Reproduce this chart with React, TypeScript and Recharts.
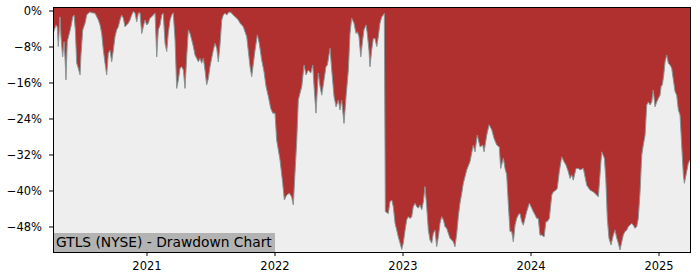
import React from 'react';
import { AreaChart, Area, XAxis, YAxis } from 'recharts';

// Drawdown (%) by decimal year
const dd2020: [number, number][] = [
  [2020.268,-4.9],[2020.289,-3.1],[2020.299,-3.6],[2020.307,-7.9],[2020.320,-1.3],[2020.328,-5.7],[2020.341,-10.2],[2020.352,-6.8],[2020.359,-10.2],[2020.367,-15.3],[2020.377,-6.8],[2020.393,-5.0],[2020.406,-3.5],[2020.420,-1.3],[2020.430,-0.9],[2020.440,-4.2],[2020.451,-11.6],[2020.463,-12.7],[2020.477,-14.2],[2020.484,-9.8],[2020.498,-4.2],[2020.516,-2.7],[2020.529,-0.9],[2020.541,-0.5],[2020.555,-0.2],[2020.568,-0.4],[2020.594,-0.5],[2020.620,-2.0],[2020.633,-3.1],[2020.646,-5.0],[2020.659,-8.7],[2020.672,-11.6],[2020.685,-14.2],[2020.698,-9.4],[2020.711,-8.7],[2020.724,-11.3],[2020.737,-8.7],[2020.750,-5.7],[2020.763,-4.2],[2020.776,-3.5],[2020.789,-2.0],[2020.802,-0.9],[2020.815,-1.6],[2020.828,-3.5],[2020.841,-3.1],[2020.854,-2.7],[2020.867,-2.0],[2020.880,-0.9],[2020.893,-0.1],[2020.906,-0.5],[2020.920,-2.4],[2020.932,-0.5],[2020.945,-0.4],[2020.959,-5.0],[2020.971,-3.5],[2020.984,-2.0],[2020.998,-3.1],
];
const dd2021: [number, number][] = [
  [2021.010,-2.7],[2021.023,-1.6],[2021.037,-1.3],[2021.049,-0.9],[2021.063,-0.5],[2021.076,-10.2],[2021.088,-4.2],[2021.102,-3.1],[2021.115,-0.9],[2021.127,-0.5],[2021.141,-7.2],[2021.154,-9.0],[2021.166,-5.0],[2021.180,-2.0],[2021.193,-0.9],[2021.205,-0.4],[2021.219,-6.4],[2021.232,-17.2],[2021.245,-15.3],[2021.258,-12.7],[2021.271,-12.4],[2021.284,-13.1],[2021.297,-17.2],[2021.310,-10.2],[2021.323,-4.2],[2021.336,-5.0],[2021.349,-6.4],[2021.362,-7.9],[2021.375,-9.8],[2021.388,-10.5],[2021.401,-11.3],[2021.414,-10.5],[2021.427,-11.6],[2021.440,-10.5],[2021.453,-13.1],[2021.466,-16.4],[2021.479,-15.0],[2021.492,-12.4],[2021.505,-10.5],[2021.518,-8.7],[2021.531,-7.2],[2021.545,-8.3],[2021.557,-11.3],[2021.570,-7.6],[2021.584,-2.0],[2021.596,-0.9],[2021.609,-0.5],[2021.623,-0.9],[2021.635,-0.4],[2021.648,-0.2],[2021.662,-0.5],[2021.674,-0.9],[2021.688,-1.3],[2021.701,-1.6],[2021.713,-2.0],[2021.727,-2.7],[2021.752,-3.5],[2021.779,-5.7],[2021.805,-12.4],[2021.818,-14.6],[2021.844,-8.7],[2021.862,-5.3],[2021.877,-7.2],[2021.896,-10.9],[2021.914,-13.5],[2021.930,-16.8],[2021.948,-19.0],[2021.966,-21.6],[2021.982,-22.7],
];
const dd2022: [number, number][] = [
  [2022.000,-22.7],[2022.013,-28.7],[2022.039,-33.1],[2022.060,-38.3],[2022.073,-42.0],[2022.091,-40.9],[2022.112,-40.5],[2022.130,-41.3],[2022.143,-43.1],[2022.156,-36.0],[2022.170,-28.7],[2022.182,-19.8],[2022.195,-18.3],[2022.209,-16.8],[2022.227,-12.0],[2022.242,-14.2],[2022.260,-13.1],[2022.279,-13.8],[2022.295,-12.0],[2022.305,-16.8],[2022.320,-22.7],[2022.338,-13.8],[2022.352,-16.8],[2022.365,-18.7],[2022.383,-15.3],[2022.398,-12.4],[2022.409,-12.0],[2022.430,-8.3],[2022.443,-13.1],[2022.461,-19.0],[2022.477,-21.3],[2022.495,-19.8],[2022.508,-22.0],[2022.521,-19.8],[2022.539,-25.0],[2022.555,-19.0],[2022.573,-13.1],[2022.586,-5.0],[2022.599,-1.6],[2022.617,-2.7],[2022.633,-5.0],[2022.643,-4.6],[2022.656,-5.7],[2022.670,-10.2],[2022.685,-6.4],[2022.695,-4.2],[2022.711,-3.1],[2022.721,-5.0],[2022.734,-8.7],[2022.742,-12.4],[2022.755,-8.7],[2022.768,-6.1],[2022.781,-6.1],[2022.795,-7.9],[2022.807,-5.7],[2022.820,-2.7],[2022.834,-1.3],[2022.846,-0.9],[2022.854,-0.5],[2022.862,-44.6],[2022.885,-45.0],[2022.898,-42.4],[2022.912,-42.0],[2022.924,-43.5],[2022.938,-47.2],[2022.951,-48.7],[2022.963,-50.2],[2022.977,-51.6],[2022.990,-53.0],
];
const dd2023: [number, number][] = [
  [2023.002,-51.6],[2023.016,-48.7],[2023.029,-46.4],[2023.041,-45.7],[2023.055,-46.1],[2023.068,-45.7],[2023.080,-43.5],[2023.094,-42.7],[2023.107,-43.5],[2023.120,-43.8],[2023.133,-43.1],[2023.146,-44.2],[2023.159,-42.4],[2023.172,-39.0],[2023.185,-43.5],[2023.198,-48.7],[2023.211,-50.9],[2023.224,-51.6],[2023.237,-49.4],[2023.250,-48.7],[2023.263,-52.4],[2023.276,-50.2],[2023.289,-47.2],[2023.302,-45.7],[2023.315,-46.4],[2023.328,-47.9],[2023.341,-48.3],[2023.354,-49.4],[2023.367,-50.5],[2023.380,-50.9],[2023.393,-51.3],[2023.406,-52.4],[2023.420,-49.4],[2023.432,-45.7],[2023.445,-42.7],[2023.459,-40.5],[2023.471,-38.3],[2023.498,-35.3],[2023.523,-33.5],[2023.549,-29.8],[2023.5625,-31.3],[2023.580,-27.6],[2023.602,-30.2],[2023.623,-29.8],[2023.633,-31.3],[2023.654,-27.6],[2023.672,-25.3],[2023.693,-26.4],[2023.711,-28.3],[2023.732,-29.8],[2023.752,-30.2],[2023.763,-35.0],[2023.784,-32.7],[2023.797,-35.0],[2023.810,-36.4],[2023.823,-43.1],[2023.836,-49.0],[2023.849,-49.0],[2023.862,-51.3],[2023.875,-47.6],[2023.888,-46.1],[2023.901,-45.3],[2023.914,-45.0],[2023.927,-46.8],[2023.940,-47.6],[2023.953,-46.1],[2023.966,-44.6],[2023.987,-42.7],
];
const dd2024: [number, number][] = [
  [2024.005,-43.8],[2024.018,-44.6],[2024.031,-45.3],[2024.045,-46.1],[2024.057,-46.1],[2024.070,-49.8],[2024.084,-49.8],[2024.102,-50.2],[2024.117,-46.8],[2024.127,-46.8],[2024.143,-46.1],[2024.162,-40.9],[2024.174,-40.2],[2024.195,-39.8],[2024.205,-39.4],[2024.221,-35.7],[2024.240,-32.4],[2024.258,-33.5],[2024.273,-34.2],[2024.291,-35.7],[2024.305,-37.2],[2024.318,-36.4],[2024.330,-37.6],[2024.352,-35.0],[2024.370,-35.0],[2024.383,-35.3],[2024.409,-35.0],[2024.435,-38.7],[2024.461,-39.8],[2024.487,-40.2],[2024.513,-40.9],[2024.526,-41.3],[2024.539,-36.4],[2024.552,-31.3],[2024.573,-32.7],[2024.584,-37.2],[2024.596,-46.1],[2024.609,-50.5],[2024.625,-52.0],[2024.643,-49.8],[2024.656,-48.7],[2024.670,-50.5],[2024.682,-51.6],[2024.695,-53.1],[2024.709,-51.3],[2024.721,-49.8],[2024.734,-49.0],[2024.748,-48.7],[2024.760,-47.9],[2024.773,-47.6],[2024.787,-47.2],[2024.799,-47.6],[2024.8125,-48.3],[2024.826,-47.9],[2024.838,-46.1],[2024.852,-40.2],[2024.865,-32.0],[2024.877,-29.8],[2024.891,-27.6],[2024.904,-20.9],[2024.916,-20.2],[2024.930,-20.9],[2024.943,-20.2],[2024.955,-17.6],[2024.969,-21.3],[2024.982,-20.2],[2024.995,-19.4],
];
const dd2025: [number, number][] = [
  [2025.008,-18.7],[2025.016,-16.8],[2025.026,-16.4],[2025.037,-14.2],[2025.047,-11.3],[2025.060,-9.8],[2025.073,-11.6],[2025.086,-12.0],[2025.099,-12.7],[2025.112,-15.3],[2025.125,-17.9],[2025.138,-18.7],[2025.151,-22.0],[2025.164,-23.1],[2025.177,-29.8],[2025.190,-36.4],[2025.198,-38.3],[2025.216,-35.7],[2025.229,-33.8],[2025.242,-33.1],
];

const xTicks = [2021, 2022, 2023, 2024, 2025];
const yTicks = [0, -8, -16, -24, -32, -40, -48];
const X_MIN = 2020.2656;
const X_MAX = 2025.242;
const Y_MIN = -53.56;
const Y_MAX = 0.89;
const TITLE = 'GTLS (NYSE) - Drawdown Chart';
const MINUS = '−';

const data = [...dd2020, ...dd2021, ...dd2022, ...dd2023, ...dd2024, ...dd2025].map(([t, v]) => ({ t, v }));

const FONT = "'DejaVu Sans', sans-serif";

const fmtY = (v: number) => (v === 0 ? '0%' : MINUS + Math.abs(v) + '%');

export default function App() {
  return (
    <div style={{ position: 'absolute', left: 0, top: 0, width: 700, height: 280, background: '#ffffff', fontFamily: FONT }}>
      <div style={{ position: 'absolute', left: 53, top: 7, width: 637, height: 245, background: '#eeeeee' }} />
      <div style={{ position: 'absolute', left: 0, top: 0 }}>
        <AreaChart width={700} height={280} data={data} margin={{ top: 7, right: 10, bottom: 0, left: 0 }}>
          <XAxis
            dataKey="t"
            type="number"
            domain={[X_MIN, X_MAX]}
            ticks={xTicks}
            interval={0}
            allowDataOverflow
            height={28}
            tickSize={4}
            tickMargin={6}
            axisLine={false}
            tickLine={{ stroke: '#000000' }}
            tick={{ fill: '#000000', fontSize: 11.5, fontFamily: FONT }}
            tickFormatter={(v: number) => String(v)}
          />
          <YAxis
            type="number"
            domain={[Y_MIN, Y_MAX]}
            ticks={yTicks}
            interval={0}
            allowDataOverflow
            width={53}
            tickSize={4}
            tickMargin={7}
            axisLine={false}
            tickLine={{ stroke: '#000000' }}
            tick={{ fill: '#000000', fontSize: 11.5, fontFamily: FONT }}
            tickFormatter={fmtY}
          />
          <Area
            type="linear"
            dataKey="v"
            baseValue={Y_MAX}
            stroke="#8a9494"
            strokeWidth={1}
            fill="#b03030"
            fillOpacity={1}
            dot={false}
            activeDot={false}
            isAnimationActive={false}
          />
        </AreaChart>
      </div>
      <div style={{ position: 'absolute', left: 53, top: 233, width: 222, height: 19, background: '#b3b3b3', color: '#000', fontSize: 13.8, lineHeight: '19px', paddingLeft: 3, boxSizing: 'border-box', whiteSpace: 'nowrap', fontFamily: FONT }}>
        {TITLE}
      </div>
      <div style={{ position: 'absolute', left: 53, top: 7, width: 638, height: 246, border: '1px solid #000', boxSizing: 'border-box', pointerEvents: 'none' }} />
    </div>
  );
}
